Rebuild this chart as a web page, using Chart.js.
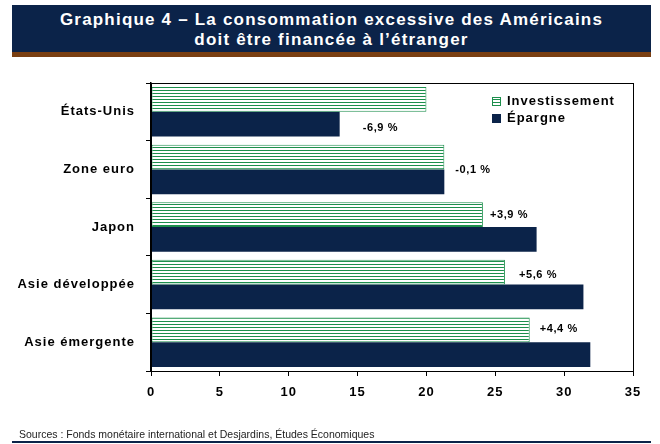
<!DOCTYPE html>
<html lang="fr">
<head>
    <meta charset="UTF-8">
    <title>Graphique 4</title>
    <script src="https://cdn.jsdelivr.net/npm/chart.js"></script>
    <style>
        body {
            margin: 0;
            width: 660px;
            height: 444px;
            background: #fff;
            font-family: "Liberation Sans", Arial, sans-serif;
            position: relative;
            overflow: hidden;
        }

        .header {
            position: absolute;
            left: 12px;
            top: 5px;
            width: 639px;
            height: 42px;
            padding-top: 5px;
            background: #0b2349;
            border-bottom: 5px solid #7a3f12;
            color: #fff;
            font-weight: bold;
            font-size: 17px;
            line-height: 20px;
            letter-spacing: 1.2px;
            text-align: center;
        }

        .source {
            position: absolute;
            left: 19px;
            top: 428px;
            font-size: 10.5px;
            line-height: 12px;
            color: #222;
        }

        .footline {
            position: absolute;
            left: 12px;
            top: 441px;
            width: 639px;
            height: 2px;
            background: #0b2349;
        }

        .chart-box {
            position: absolute;
            left: 0;
            top: 0;
            width: 660px;
            height: 444px;
        }
    </style>
</head>
<body>
    <div class="header">Graphique 4 – La consommation excessive des Américains<br>doit être financée à l’étranger</div>
    <div class="chart-box"><canvas id="chart" width="660" height="444"></canvas></div>
    <div class="source">Sources : Fonds monétaire international et Desjardins, Études Économiques</div>
    <div class="footline"></div>

    <script>
        const categories = ['États-Unis', 'Zone euro', 'Japon', 'Asie développée', 'Asie émergente'];
        const investissement = [20.0, 21.3, 24.1, 25.7, 27.5];
        const epargne = [13.7, 21.3, 28.0, 31.4, 31.9];
        const soldeLabels = ['-6,9 %', '-0,1 %', '+3,9 %', '+5,6 %', '+4,4 %'];
        const xTicks = [0, 5, 10, 15, 20, 25, 30, 35];

        const navy = '#0b2349';
        const green = '#1c8f4c';
        const font = '"Liberation Sans", Arial, sans-serif';

        // striped fill for the investment bars
        function stripePattern() {
            const c = document.createElement('canvas');
            c.width = 4;
            c.height = 3;
            const g = c.getContext('2d');
            g.fillStyle = '#ffffff';
            g.fillRect(0, 0, 4, 3);
            g.fillStyle = green;
            g.fillRect(0, 0, 4, 1);
            return g.createPattern(c, 'repeat');
        }

        // which bar each label sits next to, and its offset from the bar end
        const labelAnchor = [
            { ds: 1, dx: 23, dy: 4 },
            { ds: 0, dx: 11, dy: 13 },
            { ds: 0, dx: 7, dy: 0 },
            { ds: 0, dx: 14, dy: 3 },
            { ds: 0, dx: 10, dy: -1 }
        ];

        // the original's text is spaced out a bit
        const spacing = {
            id: 'spacing',
            beforeDraw(chart) { chart.ctx.letterSpacing = '1px'; }
        };

        const extras = {
            id: 'extras',
            afterDraw(chart) {
                const ctx = chart.ctx;
                const a = chart.chartArea;
                ctx.save();
                ctx.strokeStyle = '#000';
                ctx.lineWidth = 1;
                ctx.strokeRect(a.left + 0.5, a.top + 0.5, a.right - a.left, a.bottom - a.top);

                // balance labels
                ctx.fillStyle = '#000';
                ctx.letterSpacing = '0.6px';
                ctx.font = 'bold 11px ' + font;
                ctx.textBaseline = 'middle';
                ctx.textAlign = 'left';
                soldeLabels.forEach((txt, i) => {
                    const an = labelAnchor[i];
                    const bar = chart.getDatasetMeta(an.ds).data[i];
                    ctx.fillText(txt, bar.x + an.dx, bar.y + an.dy);
                });

                // legend
                const lx = 492, ly = 101;
                ctx.letterSpacing = '1px';
                ctx.font = 'bold 13px ' + font;
                chart.data.datasets.forEach((ds, i) => {
                    const y = ly + i * 17;
                    ctx.fillStyle = ds.backgroundColor;
                    ctx.fillRect(lx, y - 4, 9, 9);
                    if (i === 0) {
                        ctx.strokeStyle = green;
                        ctx.strokeRect(lx + 0.5, y - 3.5, 8, 8);
                    }
                    ctx.fillStyle = '#000';
                    ctx.fillText(ds.label, lx + 15, y);
                });
                ctx.restore();
            }
        };

        const ctx = document.getElementById('chart').getContext('2d');
        new Chart(ctx, {
            type: 'bar',
            data: {
                labels: categories,
                datasets: [{
                    label: 'Investissement',
                    data: investissement,
                    backgroundColor: stripePattern(),
                    borderColor: green,
                    borderWidth: 1,
                    borderSkipped: false,
                    categoryPercentage: 0.86,
                    barPercentage: 1.0
                }, {
                    label: 'Épargne',
                    data: epargne,
                    backgroundColor: navy,
                    borderColor: navy,
                    borderWidth: 0,
                    categoryPercentage: 0.86,
                    barPercentage: 1.0
                }]
            },
            options: {
                indexAxis: 'y',
                responsive: false,
                animation: false,
                layout: {
                    padding: { top: 83, right: 27, bottom: 0, left: 0 }
                },
                plugins: {
                    legend: { display: false },
                    tooltip: { enabled: false }
                },
                scales: {
                    x: {
                        min: 0,
                        max: 35,
                        afterBuildTicks: (s) => { s.ticks = xTicks.map(v => ({ value: v })); },
                        afterFit: (s) => { s.height = 73; },
                        grid: {
                            drawOnChartArea: false,
                            drawTicks: true,
                            tickLength: 5,
                            color: '#000'
                        },
                        border: { color: '#000' },
                        ticks: {
                            color: '#000',
                            padding: 9,
                            font: { family: font, size: 13, weight: 'bold' }
                        }
                    },
                    y: {
                        afterFit: (s) => { s.width = 151; },
                        grid: {
                            offset: true,
                            drawOnChartArea: false,
                            drawTicks: true,
                            tickLength: 5,
                            color: '#000'
                        },
                        border: { color: '#000', width: 1.5 },
                        ticks: {
                            color: '#000',
                            padding: 11,
                            font: { family: font, size: 13, weight: 'bold' }
                        }
                    }
                }
            },
            plugins: [spacing, extras]
        });
    </script>
</body>
</html>
